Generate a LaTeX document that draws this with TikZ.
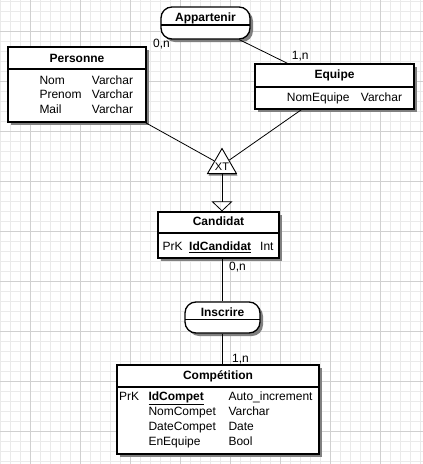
\documentclass[tikz,border=0pt]{standalone}
\usepackage{fontspec}
\setmainfont{Liberation Sans}
\usetikzlibrary{shadows,shapes.geometric,arrows.meta}
\definecolor{gridminor}{RGB}{234,234,234}
\definecolor{gridmajor}{RGB}{208,208,208}
\definecolor{shadowgray}{RGB}{128,128,128}
\begin{document}
\begin{tikzpicture}[x=1pt,y=-1pt,
  gminor/.style={draw=gridminor,line width=1pt},
  gmajor/.style={draw=gridmajor,line width=1pt},
  entity/.style={draw=black,line width=1.3pt,fill=white,inner sep=0pt,
    drop shadow={shadow xshift=3pt,shadow yshift=-3pt,fill=shadowgray,opacity=1}},
  assoc/.style={entity,rounded corners=11pt},
  divline/.style={draw=black,line width=1.1pt},
  link/.style={draw=black,line width=0.8pt},
  txt/.style={inner sep=0pt,anchor=base west,font=\fontsize{12}{14}\selectfont},
  ttl/.style={inner sep=0pt,anchor=base,font=\bfseries\fontsize{12}{14}\selectfont},
  card/.style={txt}]
\useasboundingbox (0,0) rectangle (423,464);
\fill[white] (0,0) rectangle (423,464);
% grid
\foreach \x in {0,10,...,420} \draw[gminor] (\x,0) -- (\x,464);
\foreach \y in {1,11,...,461} \draw[gminor] (0,\y) -- (423,\y);
\foreach \x in {30,80,...,380} \draw[gmajor] (\x,0) -- (\x,464);
\foreach \y in {31,81,...,431} \draw[gmajor] (0,\y) -- (423,\y);

% Appartenir
\node[assoc,minimum width=89pt,minimum height=32pt] (app) at (205.5,23) {};
\draw[divline] (161,25) -- (250,25);
\node[ttl] (appt) at (205.5,21.5) {Appartenir};

% Personne
\node[entity,minimum width=138pt,minimum height=75pt] (pers) at (77,84.5) {};
\draw[divline] (8,69) -- (146,69);
\node[ttl] (perst) at (77,62) {Personne};
\node[txt] (p1a) at (39.3,84) {Nom};
\node[txt] (p1b) at (91.7,84) {Varchar};
\node[txt] (p2a) at (39.3,98.5) {Prenom};
\node[txt] (p2b) at (91.7,98.5) {Varchar};
\node[txt] (p3a) at (39.3,113) {Mail};
\node[txt] (p3b) at (91.7,113) {Varchar};

% Equipe
\node[entity,minimum width=159pt,minimum height=45pt] (equ) at (334.5,86.5) {};
\draw[divline] (255,87) -- (414,87);
\node[ttl] (equt) at (334.5,78.3) {Equipe};
\node[txt] (e1a) at (286.7,101.5) {NomEquipe};
\node[txt] (e1b) at (360.7,101.5) {Varchar};

% XT triangle
\node[regular polygon,regular polygon sides=3,minimum size=33.4pt,inner sep=0pt,
  draw=black,line width=0.9pt,fill=white,
  drop shadow={shadow xshift=1pt,shadow yshift=-2pt,fill=shadowgray,opacity=1}] (xt) at (222,165.2) {};
\node[inner sep=0pt,anchor=base,font=\fontsize{11}{13}\selectfont] (xtt) at (222,170.5) {XT};

% Candidat
\node[entity,minimum width=121pt,minimum height=46pt] (cand) at (218.5,235) {};
\draw[divline] (158,233) -- (279,233);
\node[ttl] (candt) at (218.5,225.5) {Candidat};
\node[txt] (c1a) at (162.5,250.5) {PrK};
\node[txt,font=\bfseries\fontsize{12}{14}\selectfont] (c1b) at (189,250.5) {\underline{IdCandidat}};
\node[txt] (c1c) at (260,250.5) {Int};

% Inscrire
\node[assoc,minimum width=75pt,minimum height=31pt] (insc) at (222.5,317.5) {};
\draw[divline] (185,319.5) -- (260,319.5);
\node[ttl] (insct) at (222.5,316.5) {Inscrire};

% Competition
\node[entity,minimum width=202pt,minimum height=89pt] (comp) at (218,409.5) {};
\draw[divline] (117,387) -- (319,387);
\node[ttl] (compt) at (218,379.5) {Compétition};
\node[txt] (k1a) at (119,400.5) {PrK};
\node[txt,font=\bfseries\fontsize{12}{14}\selectfont] (k1b) at (148.3,400.5) {\underline{IdCompet}};
\node[txt] (k1c) at (228.3,400.5) {Auto\_increment};
\node[txt] (k2b) at (148.3,415.5) {NomCompet};
\node[txt] (k2c) at (228.3,415.5) {Varchar};
\node[txt] (k3b) at (148.3,430.5) {DateCompet};
\node[txt] (k3c) at (228.3,430.5) {Date};
\node[txt] (k4b) at (148.3,445) {EnEquipe};
\node[txt] (k4c) at (228.3,445) {Bool};

% connectors
\draw[link] (app) -- (equ);
\draw[link] (pers) -- (xt);
\draw[link] (equ) -- (xt);
\coordinate (candtop) at (xt.south |- cand.north);
\draw[link,-{Triangle[open,width=21pt,length=10pt,line width=0.8pt]}] (xt.south) -- (candtop);
\coordinate (candbot) at (insc.north |- cand.south);
\draw[link] (candbot) -- (insc.north);
\coordinate (comptop) at (insc.south |- comp.north);
\draw[link] (insc.south) -- (comptop);

% cardinalities
\node[card] (c01) at (153,47.5) {0,n};
\node[card] (c02) at (291.7,59.3) {1,n};
\node[card] (c03) at (229,270) {0,n};
\node[card] (c04) at (232,362) {1,n};
\end{tikzpicture}
\end{document}
